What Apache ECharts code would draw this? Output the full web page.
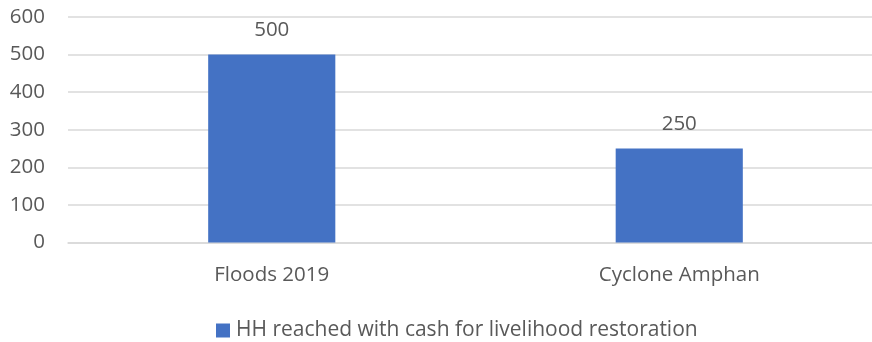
<!DOCTYPE html>
<html>
<head>
<meta charset="utf-8">
<script src="https://cdn.jsdelivr.net/npm/echarts@6/dist/echarts.min.js"></script>
<style>
  html, body { margin: 0; padding: 0; background: #fff; overflow: hidden; }
  /* the plot area runs past the right edge of the view, so the canvas is a bit wider */
  #chart { width: 883px; height: 342px; }
</style>
</head>
<body>
<div id="chart"></div>
<script>
// Households reached with cash, by emergency response
const categories = ['Floods 2019', 'Cyclone Amphan'];
const householdsReached = [500, 250];
const seriesName = 'HH reached with cash for livelihood restoration';
const yTicks = { min: 0, max: 600, interval: 100 };

const FONT = '"Open Sans", sans-serif';
const TEXT = '#595959';
const GRID = '#D9D9D9';

const chart = echarts.init(document.getElementById('chart'), null, { renderer: 'canvas' });
chart.setOption({
  animation: false,
  backgroundColor: '#ffffff',
  textStyle: { fontFamily: FONT },
  grid: { left: 68, right: 0, top: 17, bottom: 99.5, containLabel: false },
  legend: {
    left: 216,
    top: 320,
    padding: 0,
    itemWidth: 14,
    itemHeight: 14,
    itemGap: 6,
    icon: 'rect',
    textStyle: { color: TEXT, fontSize: 21, fontFamily: FONT, padding: [0, 0, 0, 1] },
    data: [seriesName]
  },
  xAxis: {
    type: 'category',
    data: categories,
    axisLine: { show: true, lineStyle: { color: GRID, width: 1.5 } },
    axisTick: { show: false },
    axisLabel: { color: TEXT, fontSize: 20.5, fontFamily: FONT, margin: 22 }
  },
  yAxis: {
    type: 'value',
    min: yTicks.min,
    max: yTicks.max,
    interval: yTicks.interval,
    axisLine: { show: false },
    axisTick: { show: false },
    splitLine: { lineStyle: { color: GRID, width: 1.5 } },
    axisLabel: { color: TEXT, fontSize: 20.5, fontFamily: FONT, margin: 23 }
  },
  series: [{
    name: seriesName,
    type: 'bar',
    data: householdsReached,
    barWidth: '31.2%',
    itemStyle: { color: '#4472C4' },
    label: {
      show: true,
      position: 'top',
      distance: 14,
      color: TEXT,
      fontSize: 20.5,
      fontFamily: FONT
    }
  }]
});
</script>
</body>
</html>
